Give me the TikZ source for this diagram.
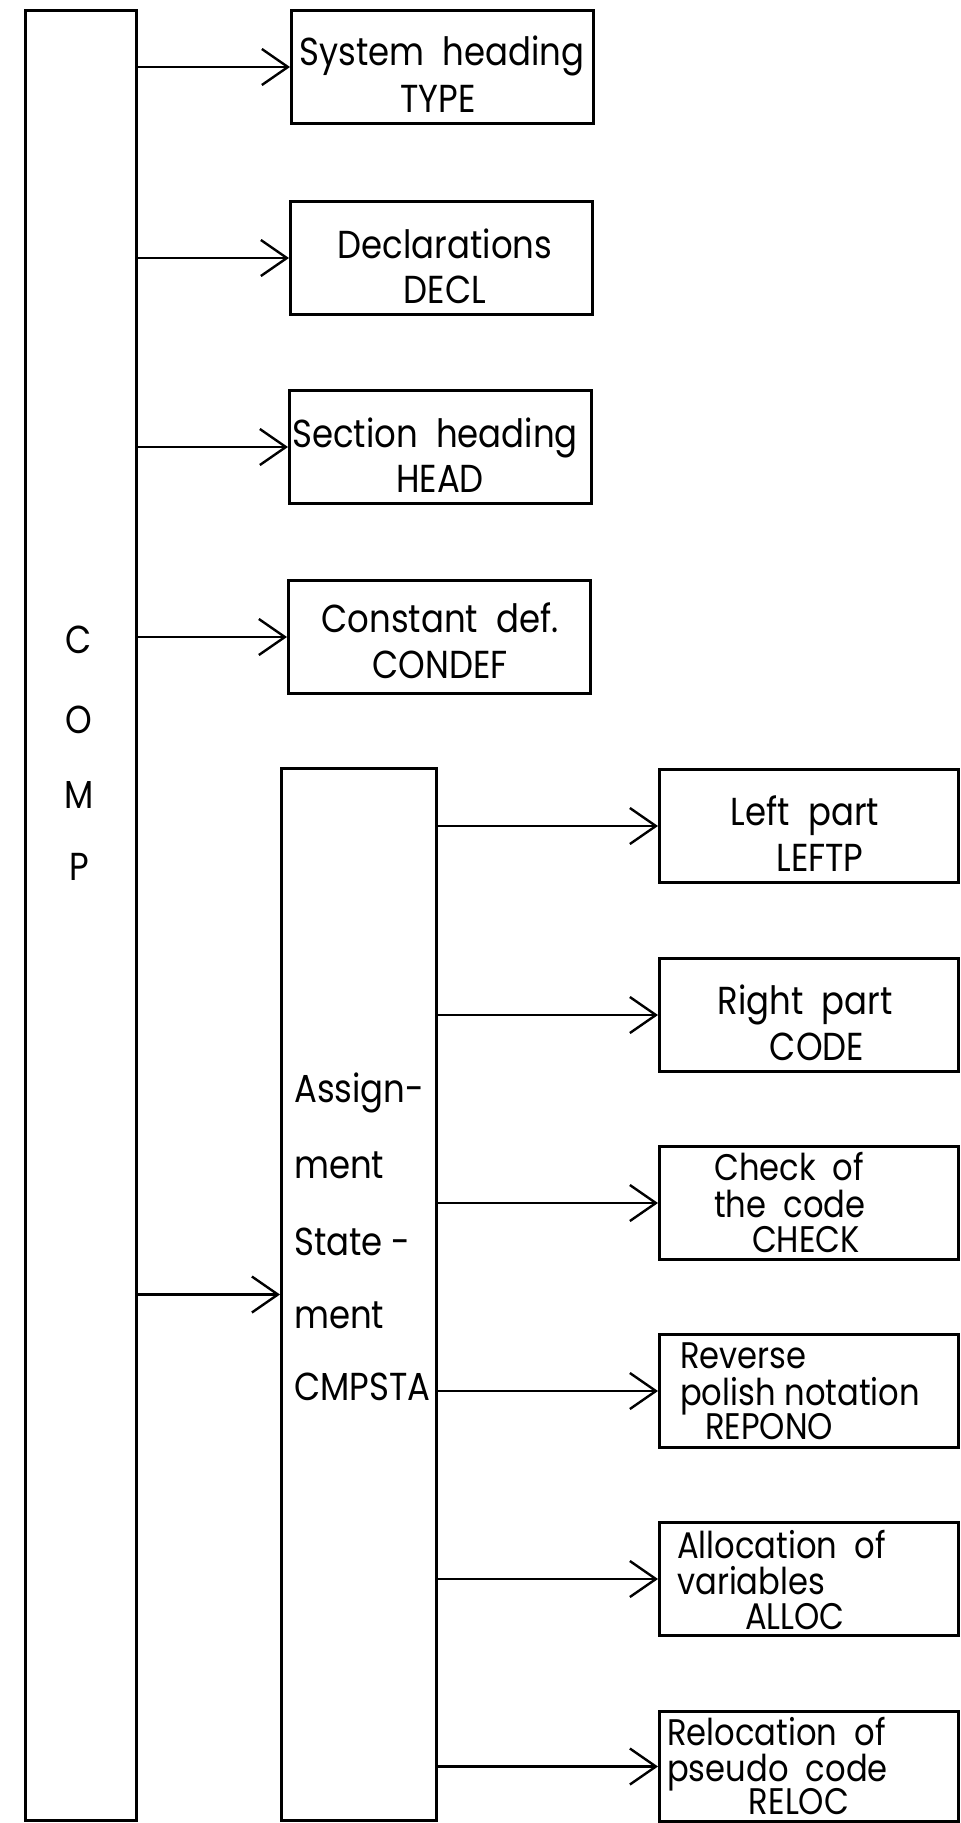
\documentclass[tikz,border=0pt]{standalone}
\usepackage{fontspec}
\setmainfont{Poppins}[FakeStretch=0.87]
\usetikzlibrary{arrows.meta}
\tikzset{
  blk/.style={draw=black, line width=3pt, rectangle, inner sep=0pt, anchor=north west},
  arr/.style={line width=2.4pt, -{Straight Barb[length=26pt,width=36pt,line width=2.4pt]}},
  lbl/.style={inner sep=0pt, anchor=base, font=\fontsize{39}{39}\selectfont},
  lblw/.style={inner sep=0pt, anchor=base west, font=\fontsize{39}{39}\selectfont},
  sml/.style={font=\fontsize{37}{37}\selectfont, text height=0.7em, text depth=0.18em}
}
\begin{document}
\begin{tikzpicture}[x=1pt,y=-1pt]
\useasboundingbox (0,0) rectangle (961,1823);
% main boxes
\node[blk, minimum width=111pt, minimum height=1810pt] (comp) at (24,9) {};
\node[blk, minimum width=155pt, minimum height=1052pt] (cmp) at (280,767) {};
% left boxes
\node[blk, minimum width=302pt, minimum height=113pt] (b1) at (290,9) {};
\node[blk, minimum width=302pt, minimum height=113pt] (b2) at (289,200) {};
\node[blk, minimum width=302pt, minimum height=113pt] (b3) at (288,389) {};
\node[blk, minimum width=302pt, minimum height=113pt] (b4) at (287,579) {};
% right boxes
\node[blk, minimum width=299pt, minimum height=113pt] (r1) at (658,768) {};
\node[blk, minimum width=299pt, minimum height=113pt] (r2) at (658,957) {};
\node[blk, minimum width=299pt, minimum height=113pt] (r3) at (658,1145) {};
\node[blk, minimum width=299pt, minimum height=113pt] (r4) at (658,1333) {};
\node[blk, minimum width=299pt, minimum height=113pt] (r5) at (658,1521) {};
\node[blk, minimum width=299pt, minimum height=110pt] (r6) at (658,1710) {};
% connectors
\foreach \b in {b1,b2,b3,b4,cmp} \draw[arr] (comp.east |- \b.west) -- (\b.west);
\foreach \b in {r1,r2,r3,r4,r5,r6} \draw[arr] (cmp.east |- \b.west) -- (\b.west);
% COMP letters
\node[lbl] (c1) at (79,653) {C};
\node[lbl] (c2) at (79,733) {O};
\node[lbl] (c3) at (79,808) {M};
\node[lbl] (c4) at (79,880) {P};
% CMPSTA text
\node[lblw] (s1) at (294,1102) {Assign-};
\node[lblw] (s2) at (294,1178) {ment};
\node[lblw] (s3) at (294,1255) {State -};
\node[lblw] (s4) at (294,1328) {ment};
\node[lblw] (s5) at (294,1400) {CMPSTA};
% left box texts
\node[lbl] (t1a) at (442,65) {System\ \ heading};
\node[lbl] (t1b) at (438,112) {TYPE};
\node[lbl] (t2a) at (445,258) {Declarations};
\node[lbl] (t2b) at (445,303) {DECL};
\node[lbl] (t3a) at (435,447) {Section\ \ heading};
\node[lbl] (t3b) at (440,492) {HEAD};
\node[lbl] (t4a) at (440,632) {Constant\ \ def.};
\node[lbl] (t4b) at (440,678) {CONDEF};
% right box texts
\node[lbl] (u1a) at (805,825) {Left\ \ part};
\node[lbl] (u1b) at (820,871) {LEFTP};
\node[lbl] (u2a) at (805,1014) {Right\ \ part};
\node[lbl] (u2b) at (817,1060) {CODE};
\node[lblw, sml] (u3a) at (714,1180) {Check\ \ of};
\node[lblw, sml] (u3b) at (714,1217) {the\ \ code};
\node[lbl, sml] (u3c) at (806,1252) {CHECK};
\node[lblw, sml] (u4a) at (680,1368) {Reverse};
\node[lblw, sml] (u4b) at (680,1405) {polish\ notation};
\node[lblw, sml] (u4c) at (705,1439) {REPONO};
\node[lblw, sml] (u5a) at (677,1558) {Allocation\ \ of};
\node[lblw, sml] (u5b) at (677,1594) {variables};
\node[lbl, sml] (u5c) at (795,1629) {ALLOC};
\node[lblw, sml] (u6a) at (667,1745) {Relocation\ \ of};
\node[lblw, sml] (u6b) at (667,1781) {pseudo\ \ code};
\node[lbl, sml] (u6c) at (799,1814) {RELOC};
\end{tikzpicture}
\end{document}
